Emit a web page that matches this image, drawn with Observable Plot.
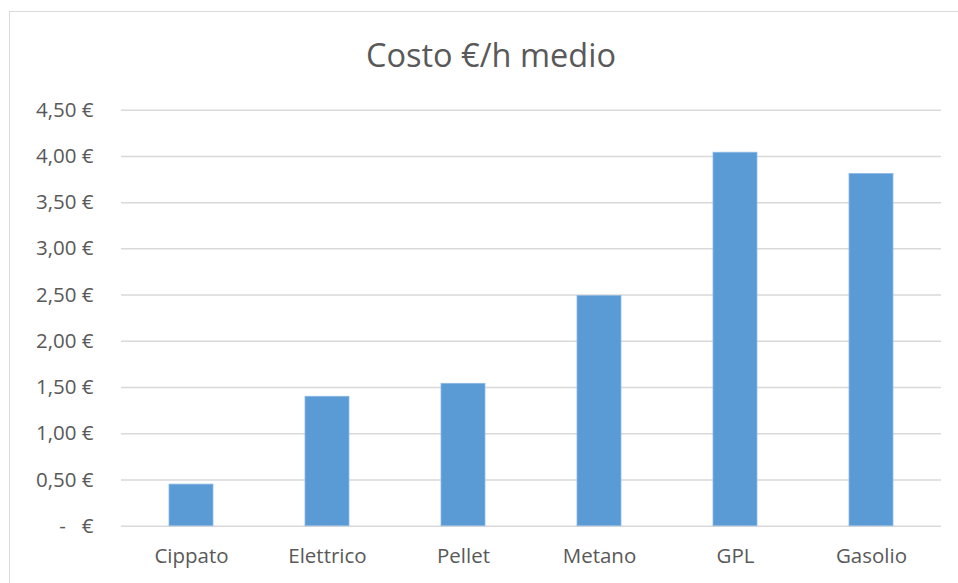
<!DOCTYPE html>
<html>
<head>
<meta charset="utf-8">
<script src="https://cdn.jsdelivr.net/npm/d3@7"></script>
<script src="https://cdn.jsdelivr.net/npm/@observablehq/plot@0.6"></script>
<style>
  html, body { margin: 0; padding: 0; background: #fff; }
  #page { position: relative; width: 958px; height: 583px; overflow: hidden; font-family: "Open Sans", sans-serif; }
  #frame { position: absolute; left: 9px; top: 11px; width: 970px; height: 600px; border: 1.3px solid #d9d9d9; box-sizing: border-box; }
  #title { position: absolute; top: 32px; left: 291px; width: 400px; text-align: center; font-size: 32.5px; color: #595959; line-height: 46px; }
  #chart { position: absolute; left: 0; top: 90px; }
  #chart svg text { white-space: pre; }
</style>
</head>
<body>
<div id="page">
  <div id="frame"></div>
  <div id="title">Costo €/h medio</div>
  <div id="chart"></div>
</div>
<script>
const categories = ["Cippato", "Elettrico", "Pellet", "Metano", "GPL", "Gasolio"];
const values = [0.45, 1.40, 1.54, 2.49, 4.04, 3.81];
const yTicks = [0, 0.5, 1, 1.5, 2, 2.5, 3, 3.5, 4, 4.5];

const data = categories.map((c, i) => ({category: c, value: values[i]}));
const fmt = d => d === 0 ? "-   €" : d.toFixed(2).replace(".", ",") + " €";

const chart = Plot.plot({
  width: 958,
  height: 493,
  marginTop: 19.7,
  marginBottom: 57.3,
  marginLeft: 121,
  marginRight: 17,
  style: {fontFamily: "'Open Sans', sans-serif", fontSize: "20.5px", color: "#595959", background: "transparent", overflow: "visible"},
  x: {domain: categories, paddingInner: 0.68, paddingOuter: 0.34, label: null},
  y: {domain: [0, 4.5], label: null},
  marks: [
    Plot.ruleY(yTicks, {stroke: "#d9d9d9", strokeWidth: 1.5}),
    Plot.barY(data, {x: "category", y: "value", fill: "#5b9bd5", stroke: "#8cb8e4", strokeWidth: 0.8}),
    Plot.axisY(yTicks, {tickSize: 0, tickPadding: 28, tickFormat: fmt, fill: "#595959", fontSize: 20.5}),
    Plot.axisX({tickSize: 0, tickPadding: 22, fill: "#595959", fontSize: 20.5})
  ]
});
document.getElementById("chart").appendChild(chart);
</script>
</body>
</html>
